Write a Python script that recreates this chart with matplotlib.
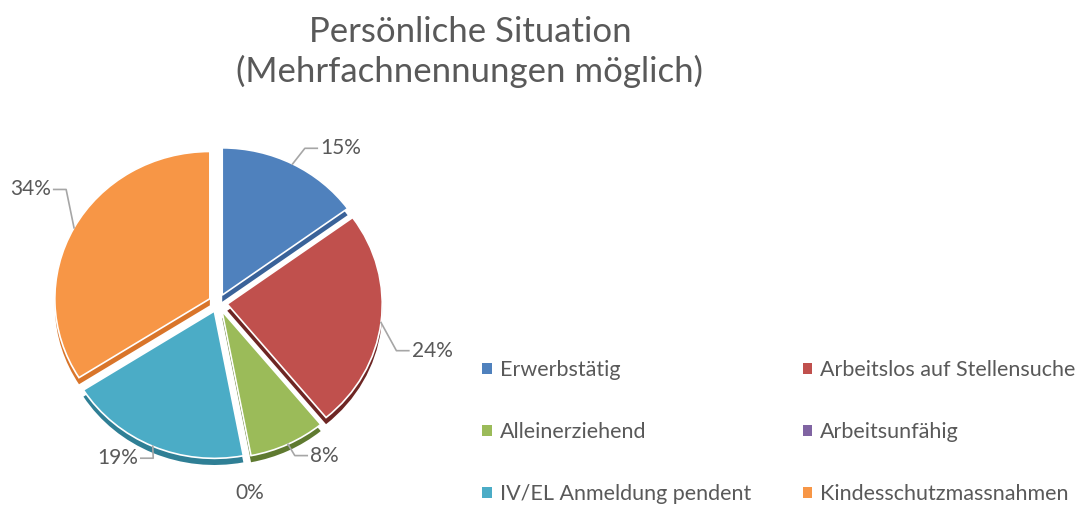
import numpy as np
import matplotlib
matplotlib.use('Agg')
import matplotlib.pyplot as plt
from matplotlib.patches import Patch

# Daten
kategorien = ['Erwerbstätig', 'Arbeitslos auf Stellensuche', 'Alleinerziehend',
              'Arbeitsunfähig', 'IV/EL Anmeldung pendent', 'Kindesschutzmassnahmen']
anteile = [15, 24, 8, 0, 19, 34]
farben = ['#4F81BD', '#C0504D', '#9BBB59', '#8064A2', '#4BACC6', '#F79646']
farben_dunkel = ['#3A6299', '#6E2624', '#5F7A30', '#5C4680', '#2F7F95', '#D9752A']

# Lage der Prozent-Beschriftungen (Winkel in Grad, Abstand in Radien)
label_winkel = [51.8, -12.6, -53.8, -80.4, -122.7, 148.7]
label_abstand = [1.27, 1.41, 1.22, 1.245, 1.19, 1.41]

plt.rcParams['font.family'] = ['Lato', 'DejaVu Sans']
textfarbe = '#595959'

fig = plt.figure(figsize=(10.9, 5.09), dpi=100)
W, H = 1090, 509

# Kreisdiagramm (leicht gestaucht wie die 3D-Ansicht)
L = 1.3
neigung = 0.95
px = 2 * L * 155
cx, cy = 218, 303
ax = fig.add_axes([(cx - px / 2) / W, (H - cy - px / 2) / H, px / W, px / H])

explode = [0.06] * len(anteile)
# 3D-Kante: dunklere Kopie leicht nach unten versetzt
ax.pie(anteile, colors=farben_dunkel, startangle=90, counterclock=False,
       explode=explode, center=(0, -0.045), radius=1.0,
       wedgeprops=dict(linewidth=0), frame=True)
wedges, _ = ax.pie(anteile, colors=farben, startangle=90, counterclock=False,
                   explode=explode, radius=1.0,
                   wedgeprops=dict(edgecolor='white', linewidth=1.2), frame=True)
ax.set_xlim(-L, L)
ax.set_ylim(-L / neigung, L / neigung)
ax.set_aspect('auto')
ax.axis('off')

# Beschriftungen mit Führungslinien
for w, v, lw_, lr in zip(wedges, anteile, label_winkel, label_abstand):
    lx = np.cos(np.deg2rad(lw_)) * lr
    ly = np.sin(np.deg2rad(lw_)) * lr / neigung
    if v == 0:
        ax.text(lx, ly, f'{v}%', ha='center', va='center', fontsize=15,
                color=textfarbe)
        continue
    a = np.deg2rad((w.theta1 + w.theta2) / 2)
    x0, y0 = np.cos(a) * 1.06, np.sin(a) * 1.06
    seite = 1 if lx > x0 else -1
    kante = lx - seite * 0.125
    ende = kante - seite * 0.02
    knick = ende - seite * 0.08
    ax.plot([x0, knick, ende], [y0, ly, ly], color='#A6A6A6', lw=1.2,
            clip_on=False)
    ax.text(kante, ly, f'{v}%', ha='left' if seite > 0 else 'right',
            va='center', fontsize=15, color=textfarbe)

# Titel
fig.text(470 / W, 1 - 52 / H, 'Persönliche Situation\n(Mehrfachnennungen möglich)',
         ha='center', va='center', fontsize=25, color=textfarbe, linespacing=1.25)

# Legende (zeilenweise wie im Original)
reihenfolge = [0, 2, 4, 1, 3, 5]
handles = [Patch(facecolor=farben[i], edgecolor='none') for i in reihenfolge]
labels = [kategorien[i] for i in reihenfolge]
leg = fig.legend(handles, labels, ncol=2, loc='upper left',
                 bbox_to_anchor=(463 / W, 1 - 341 / H), frameon=False,
                 fontsize=15.5, labelcolor=textfarbe, handlelength=0.45,
                 handleheight=0.45, handletextpad=0.35, columnspacing=2.4,
                 labelspacing=1.95)

fig.savefig('out.png', dpi=100)
